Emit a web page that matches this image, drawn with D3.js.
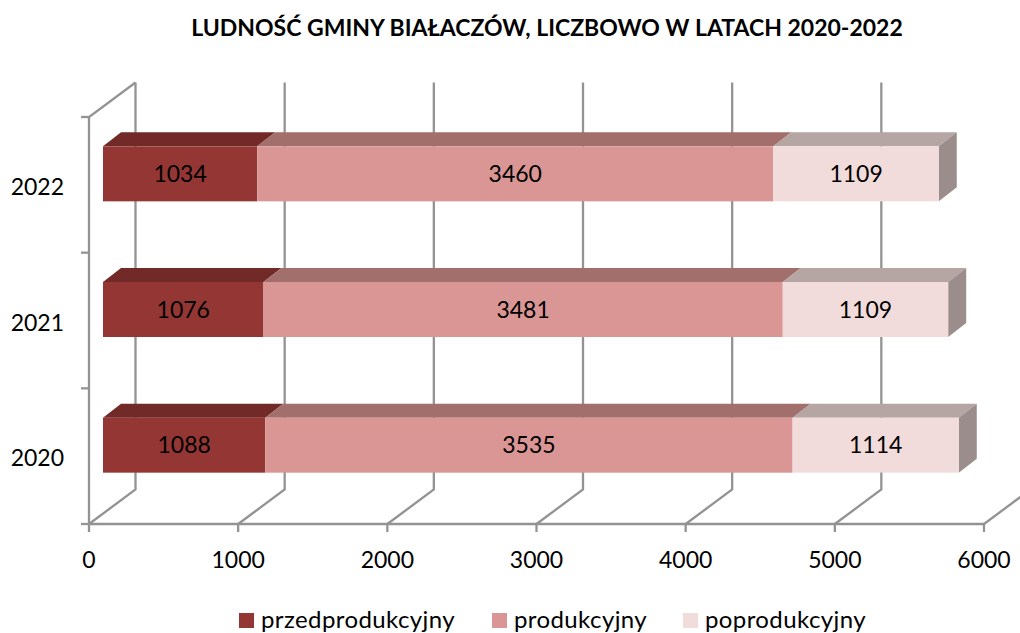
<!DOCTYPE html>
<html lang="pl">
<head>
<meta charset="utf-8">
<script src="https://cdn.jsdelivr.net/npm/d3@7"></script>
<style>
html,body{margin:0;padding:0;background:#fff;}
svg{display:block;}
text{font-family:Lato,"Open Sans",sans-serif;fill:#000;}
</style>
</head>
<body>
<svg id="chart" width="1020" height="633"></svg>
<script>
const years = ["2020", "2021", "2022"];
const seriesNames = ["przedprodukcyjny", "produkcyjny", "poprodukcyjny"];
const przedprodukcyjny = [1088, 1076, 1034];
const produkcyjny = [3535, 3481, 3460];
const poprodukcyjny = [1114, 1109, 1109];
const xTicks = [0, 1000, 2000, 3000, 4000, 5000, 6000];
const titleText = "LUDNOŚĆ GMINY BIAŁACZÓW, LICZBOWO W LATACH 2020-2022";

const frontColors = ["#943634", "#d99694", "#f2dcdb"];
const topColors = ["#722a28", "#a36f6d", "#b5a5a3"];
const sideColor = "#9b8d8b";
const gridColor = "#939393";

const svg = d3.select("#chart");
const x = d3.scaleLinear().domain([0, 6000]).range([89, 984]);
const y = d3.scaleBand().domain(years).range([524, 117]);

const wall = {dx: 46.5, dy: -34.5};
const bar = {dx: 18, dy: -14, inX: 14, height: 55, shift: -11};

const grid = svg.append("g").attr("fill", "none").attr("stroke", gridColor).attr("stroke-width", 2.3);
xTicks.forEach(t => {
  grid.append("path").attr("d", d3.line()([
    [x(t), y.range()[0]],
    [x(t) + wall.dx, y.range()[0] + wall.dy],
    [x(t) + wall.dx, y.range()[1] + wall.dy]
  ]));
  grid.append("line").attr("x1", x(t)).attr("x2", x(t))
    .attr("y1", y.range()[0]).attr("y2", y.range()[0] + 8);
  svg.append("text").attr("x", x(t)).attr("y", 568)
    .attr("text-anchor", "middle").attr("font-size", 23).text(d3.format("d")(t));
});
grid.append("path").attr("d", d3.line()([
  [x(0), y.range()[0]], [x(0), y.range()[1]], [x(0) + wall.dx, y.range()[1] + wall.dy]
]));
grid.append("line").attr("x1", x(0)).attr("x2", x(6000))
  .attr("y1", y.range()[0]).attr("y2", y.range()[0]);
[y.range()[0], y.range()[1], ...years.slice(0, 2).map(c => y(c))].forEach(v => {
  grid.append("line").attr("x1", x(0) - 8).attr("x2", x(0)).attr("y1", v).attr("y2", v);
});

const series = [przedprodukcyjny, produkcyjny, poprodukcyjny];
const barsLayer = svg.append("g");
const labelsLayer = svg.append("g");
years.forEach((yr, i) => {
  const yCenter = y(yr) + y.bandwidth() / 2 + bar.shift;
  const y0 = yCenter - bar.height / 2;
  const y1 = yCenter + bar.height / 2;
  let acc = 0;
  series.forEach((s, k) => {
    const a = x(acc) + bar.inX;
    const b = x(acc + s[i]) + bar.inX;
    barsLayer.append("polygon")
      .attr("points", [[a, y0], [b, y0], [b + bar.dx, y0 + bar.dy], [a + bar.dx, y0 + bar.dy]].join(" "))
      .attr("fill", topColors[k]);
    if (k === series.length - 1) {
      barsLayer.append("polygon")
        .attr("points", [[b, y0], [b + bar.dx, y0 + bar.dy], [b + bar.dx, y1 + bar.dy], [b, y1]].join(" "))
        .attr("fill", sideColor);
    }
    acc += s[i];
  });
  acc = 0;
  series.forEach((s, k) => {
    const a = x(acc) + bar.inX;
    const b = x(acc + s[i]) + bar.inX;
    barsLayer.append("rect").attr("x", a).attr("y", y0)
      .attr("width", b - a).attr("height", y1 - y0)
      .attr("fill", frontColors[k]);
    labelsLayer.append("text").attr("x", (a + b) / 2).attr("y", yCenter + 8)
      .attr("text-anchor", "middle").attr("font-size", 23).text(s[i]);
    acc += s[i];
  });
  svg.append("text").attr("x", 64).attr("y", y(yr) + y.bandwidth() / 2 + 10)
    .attr("text-anchor", "end").attr("font-size", 23).text(yr);
});

svg.append("text").attr("x", 547).attr("y", 36)
  .attr("text-anchor", "middle").attr("font-size", 23).attr("font-weight", 700).text(titleText);

const legendX = [239, 492, 683];
seriesNames.forEach((n, k) => {
  svg.append("rect").attr("x", legendX[k]).attr("y", 613).attr("width", 15).attr("height", 15).attr("fill", frontColors[k]);
  svg.append("text").attr("x", legendX[k] + 22).attr("y", 628).attr("font-size", 24)
    .attr("letter-spacing", 0.4).text(n);
});
</script>
</body>
</html>
